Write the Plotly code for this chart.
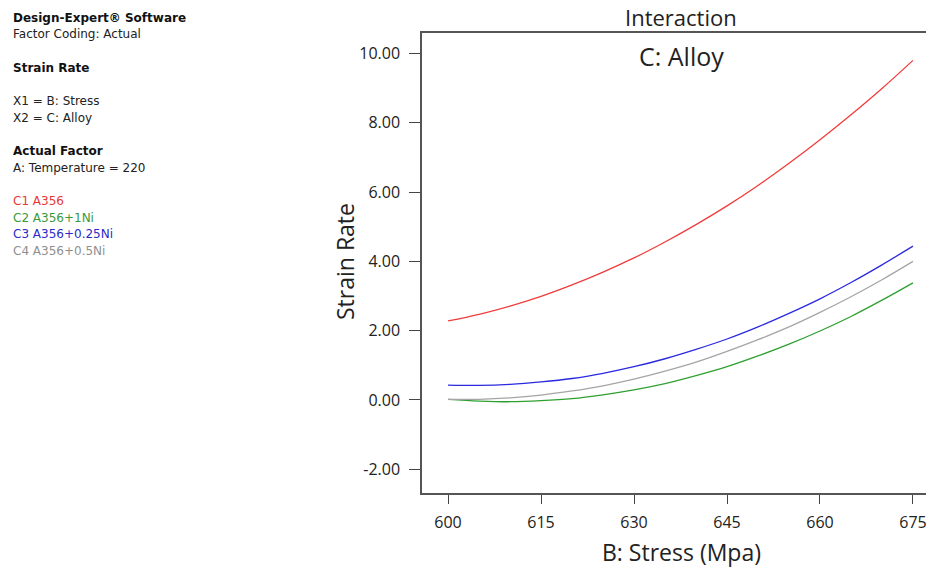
import plotly.graph_objects as go

stress = [600, 605, 610, 615, 620, 625, 630, 635, 640, 645, 650, 655, 660, 665, 670, 675]
c1_a356 = [2.28, 2.47, 2.71, 2.99, 3.32, 3.69, 4.10, 4.56, 5.06, 5.60, 6.19, 6.83, 7.51, 8.23, 8.99, 9.80]
c2_a356_1ni = [0.02, -0.03, -0.05, -0.02, 0.04, 0.15, 0.29, 0.47, 0.70, 0.96, 1.27, 1.61, 1.99, 2.41, 2.88, 3.38]
c3_a356_025ni = [0.43, 0.42, 0.45, 0.52, 0.62, 0.77, 0.96, 1.19, 1.46, 1.76, 2.11, 2.50, 2.92, 3.39, 3.90, 4.44]
c4_a356_05ni = [0.02, 0.02, 0.06, 0.14, 0.26, 0.41, 0.60, 0.83, 1.09, 1.40, 1.74, 2.11, 2.53, 2.98, 3.47, 4.00]

series_names = ["C1 A356", "C2 A356+1Ni", "C3 A356+0.25Ni", "C4 A356+0.5Ni"]
series_vals = [c1_a356, c2_a356_1ni, c3_a356_025ni, c4_a356_05ni]
line_colors = ["#f03c3c", "#2fa02f", "#2a2ae0", "#a5a5a5"]
text_colors = ["#e53935", "#3a9a3a", "#2b2bc8", "#8f8f8f"]

x_ticks = [600, 615, 630, 645, 660, 675]
y_ticks = [-2, 0, 2, 4, 6, 8, 10]

W, H = 926, 569
L, R, T, B = 422, 0, 33, 76
pw = W - L - R
ph = H - T - B

def px(x):
    return (x - L) / pw

def py(y):
    return (H - B - y) / ph

fig = go.Figure()
for name, vals, col in zip(series_names, series_vals, line_colors):
    fig.add_trace(go.Scatter(x=stress, y=vals, mode="lines", name=name,
                             line=dict(color=col, width=1.3, shape="spline"),
                             showlegend=False))

font = "Open Sans, Noto Sans, DejaVu Sans, sans-serif"
side_font = "DejaVu Sans, sans-serif"

fig.update_layout(
    width=W, height=H,
    margin=dict(l=L, r=R, t=T, b=B),
    paper_bgcolor="white", plot_bgcolor="white",
    font=dict(family=font, color="#222"),
    xaxis=dict(range=[595.8, 677.1], tickvals=x_ticks, ticktext=[str(v) for v in x_ticks],
               showgrid=False, zeroline=False, showline=True, linecolor="#555", linewidth=1.5,
               mirror=True, ticks="outside", ticklen=9, tickcolor="#444", tickwidth=1.3,
               ticklabeloverflow="allow", ticklabelstandoff=5,
               tickfont=dict(size=16, family=font, color="#222")),
    yaxis=dict(range=[-2.684, 10.59], tickvals=y_ticks,
               ticktext=["%.2f" % v for v in y_ticks],
               showgrid=False, zeroline=False, showline=True, linecolor="#555", linewidth=1.5,
               ticks="outside", ticklen=11, tickcolor="#444", tickwidth=1.3,
               ticklabelstandoff=6,
               tickfont=dict(size=16, family=font, color="#222")),
)

annotations = [
    dict(x=px(681), y=py(17), text="Interaction", size=22, color="#222", xanchor="center", fam=font, angle=0),
    dict(x=px(681), y=py(56), text="C: Alloy", size=25, color="#222", xanchor="center", fam=font, angle=0),
    dict(x=px(681), y=py(552), text="B: Stress (Mpa)", size=23, color="#222", xanchor="center", fam=font, angle=0),
    dict(x=px(345), y=py(262), text="Strain Rate", size=23, color="#222", xanchor="center", fam=font, angle=-90),
    dict(x=px(11), y=py(18), text="<b>Design-Expert® Software</b>", size=12, color="#111", xanchor="left", fam=side_font, angle=0),
    dict(x=px(11), y=py(34), text="Factor Coding: Actual", size=12, color="#222", xanchor="left", fam=side_font, angle=0),
    dict(x=px(11), y=py(68), text="<b>Strain Rate</b>", size=12, color="#111", xanchor="left", fam=side_font, angle=0),
    dict(x=px(11), y=py(101), text="X1 = B: Stress", size=12, color="#222", xanchor="left", fam=side_font, angle=0),
    dict(x=px(11), y=py(118), text="X2 = C: Alloy", size=12, color="#222", xanchor="left", fam=side_font, angle=0),
    dict(x=px(11), y=py(151), text="<b>Actual Factor</b>", size=12, color="#111", xanchor="left", fam=side_font, angle=0),
    dict(x=px(11), y=py(168), text="A: Temperature = 220", size=12, color="#222", xanchor="left", fam=side_font, angle=0),
]
for i, (nm, tc) in enumerate(zip(series_names, text_colors)):
    annotations.append(dict(x=px(11), y=py(201 + i * 16.7), text=nm, size=12, color=tc,
                            xanchor="left", fam=side_font, angle=0))

for a in annotations:
    fig.add_annotation(x=a["x"], y=a["y"], xref="paper", yref="paper", text=a["text"],
                       showarrow=False, xanchor=a["xanchor"], yanchor="middle",
                       textangle=a["angle"],
                       font=dict(size=a["size"], color=a["color"], family=a["fam"]))

fig.write_html("out.html", config={"displayModeBar": False})

with open("out.html", "r", encoding="utf-8") as f:
    html = f.read()
html = html.replace("<head>", "<head><style>html,body{margin:0;padding:0;overflow:hidden;}</style>", 1)
with open("out.html", "w", encoding="utf-8") as f:
    f.write(html)
